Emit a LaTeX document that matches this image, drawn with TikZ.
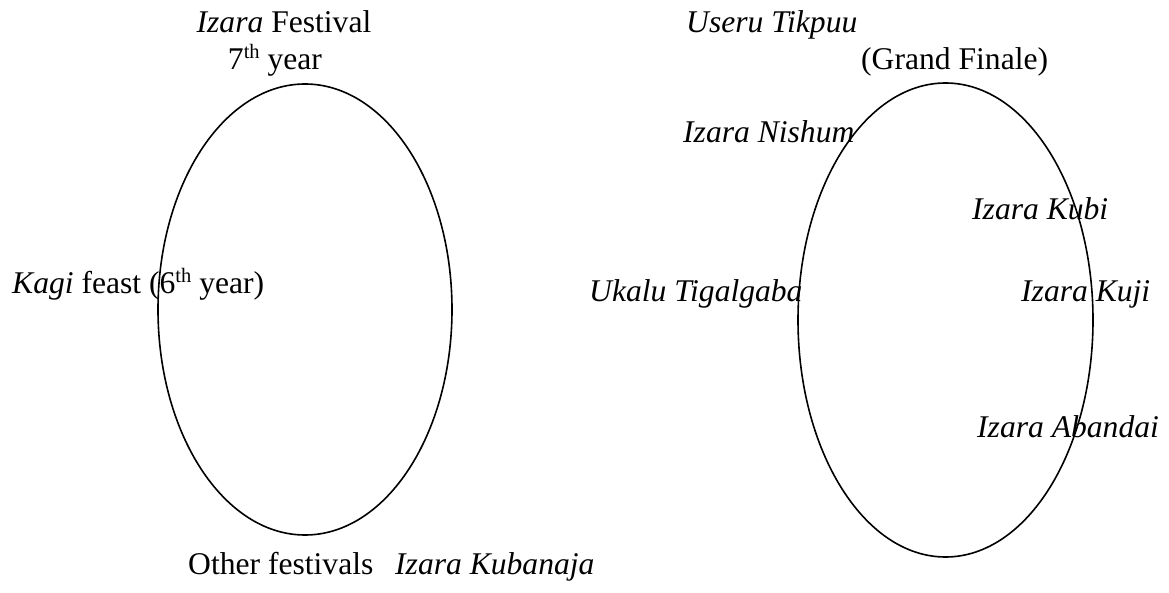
\documentclass[tikz,border=0pt]{standalone}
\usepackage{fontspec}
\setmainfont{Liberation Serif}
\usetikzlibrary{shapes.geometric}
\newcommand\supth[1]{\raisebox{0.36em}{\fontsize{20.5}{20.5}\selectfont #1}}
\tikzset{
  lbl/.style={inner sep=0pt, font=\fontsize{31.6}{36}\selectfont},
  lblw/.style={lbl, anchor=base west},
  lblc/.style={lbl, anchor=base},
  oval/.style={draw, ellipse, inner sep=0pt, line width=1.6pt}
}
\begin{document}
\begin{tikzpicture}[x=1pt,y=-1pt]
\useasboundingbox (0,0) rectangle (1169,593);
% ovals
\node[oval, minimum width=294pt, minimum height=451pt] (left) at (305,309.5) {};
\node[oval, minimum width=295pt, minimum height=474pt] (right) at (945.5,320) {};
% left labels
\node[lblc] (izfest) at (284,33) {\textit{Izara} Festival};
\node[lblc] (seventh) at (275,70) {7\supth{th} year};
\node[lblw] (kagi) at (12,294) {\textit{Kagi} feast (6\supth{th} year)};
\node[lblw] (other) at (188,574) {Other festivals};
\node[lblw] (kubanaja) at (395,574) {\textit{Izara Kubanaja}};
% right labels
\node[lblw] (useru) at (686,33) {\textit{Useru Tikpuu}};
\node[lblw] (grand) at (861,70) {(Grand Finale)};
\node[lblw] (nishum) at (683,143) {\textit{Izara Nishum}};
\node[lblw] (kubi) at (972,220) {\textit{Izara Kubi}};
\node[lblw] (ukalu) at (589,302) {\textit{Ukalu Tigalgaba}};
\node[lblw] (kuji) at (1021,302) {\textit{Izara Kuji}};
\node[lblw] (abandai) at (977,437) {\textit{Izara Abandai}};
\end{tikzpicture}
\end{document}
